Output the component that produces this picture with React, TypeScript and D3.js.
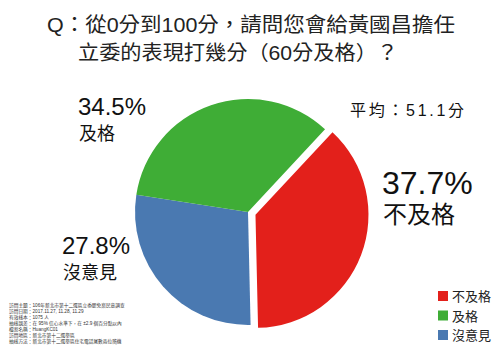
import { useEffect, useRef } from 'react';
import * as d3 from 'd3';

// 資料
const categories = ['不及格', '沒意見', '及格'];
const values = [37.7, 27.8, 34.5];
const colors = ['#e3201b', '#4a79b1', '#3fad36'];
const legendOrder = ['不及格', '及格', '沒意見'];
const titleLines = ['Q：從0分到100分，請問您會給黃國昌擔任', '立委的表現打幾分（60分及格）？'];
const averageText = '平均：51.1分';
const notes = [
  '訪問主題：106年新北市第十二選區立委罷免案民意調查',
  '訪問日期：2017.11.27, 11.28, 11.29',
  '有效樣本：1075 人',
  '抽樣誤差：在 95% 信心水準下，在 ±2.9 個百分點以內',
  '檔案名稱：HuangKC01',
  '訪問地區：新北市第十二選舉區',
  '抽樣方法：新北市第十二選舉區住宅電話尾數兩位隨機',
];

const FONT = "'Liberation Sans', 'Noto Sans CJK TC', sans-serif";

const App = () => {
  const ref = useRef<SVGSVGElement | null>(null);

  useEffect(() => {
    const svg = d3.select(ref.current);
    svg.selectAll('*').remove();

    const cx = 248;
    const cy = 212;
    const r = 113;

    // 標題
    const title = svg.append('g').attr('font-family', FONT).attr('fill', '#222');
    title.append('text')
      .attr('x', 47).attr('y', 32)
      .attr('font-size', 20)
      .attr('textLength', 408).attr('lengthAdjust', 'spacingAndGlyphs')
      .text(titleLines[0]);
    title.append('text')
      .attr('x', 78).attr('y', 60)
      .attr('font-size', 20)
      .attr('textLength', 320).attr('lengthAdjust', 'spacingAndGlyphs')
      .text(titleLines[1]);

    // 圓餅圖
    const pie = d3.pie<number>()
      .sort(null)
      .startAngle(0.75)
      .endAngle(0.75 + Math.PI * 2);
    const arcs = pie(values);
    const arc = d3.arc<d3.PieArcDatum<number>>().innerRadius(0).outerRadius(r);

    const g = svg.append('g').attr('transform', `translate(${cx},${cy})`);
    g.selectAll('path')
      .data(arcs)
      .enter().append('path')
      .attr('d', arc)
      .attr('fill', (_, i) => colors[i])
      .attr('transform', (d, i) => {
        if (i !== 0) return null;
        const mid = (d.startAngle + d.endAngle) / 2;
        const off = 8;
        return `translate(${off * Math.sin(mid)},${-off * Math.cos(mid)})`;
      });

    // 標籤
    const labels = [
      { pct: values[0], name: categories[0], x: 382, y: 194, big: 32, small: 24, gap: 29 },
      { pct: values[1], name: categories[1], x: 62, y: 254, big: 24, small: 18, gap: 25 },
      { pct: values[2], name: categories[2], x: 78, y: 115, big: 24, small: 18, gap: 25 },
    ];
    const lab = svg.append('g').attr('font-family', FONT).attr('fill', '#111');
    labels.forEach(l => {
      lab.append('text')
        .attr('x', l.x).attr('y', l.y)
        .attr('font-size', l.big)
        .text(`${l.pct}%`);
      lab.append('text')
        .attr('x', l.x + 1).attr('y', l.y + l.gap)
        .attr('font-size', l.small)
        .text(l.name);
    });

    lab.append('text')
      .attr('x', 350).attr('y', 116)
      .attr('font-size', 16)
      .attr('textLength', 114).attr('lengthAdjust', 'spacing')
      .text(averageText);

    // 圖例
    const legend = svg.append('g').attr('font-family', FONT);
    legendOrder.forEach((name, i) => {
      const idx = categories.indexOf(name);
      const y = 291 + i * 19.5;
      legend.append('rect')
        .attr('x', 438).attr('y', y)
        .attr('width', 10).attr('height', 10)
        .attr('fill', colors[idx]);
      legend.append('text')
        .attr('x', 452).attr('y', y + 10)
        .attr('font-size', 13)
        .attr('fill', '#222')
        .text(name);
    });

    // 註解
    const foot = svg.append('g').attr('font-family', FONT).attr('fill', '#333');
    notes.forEach((t, i) => {
      foot.append('text')
        .attr('x', 9).attr('y', 306.5 + i * 6)
        .attr('font-size', 4.7)
        .text(t);
    });
  }, []);

  return (
    <svg
      ref={ref}
      width={500}
      height={353}
      style={{ position: 'absolute', left: 0, top: 0, background: '#fff' }}
    />
  );
};

export default App;
